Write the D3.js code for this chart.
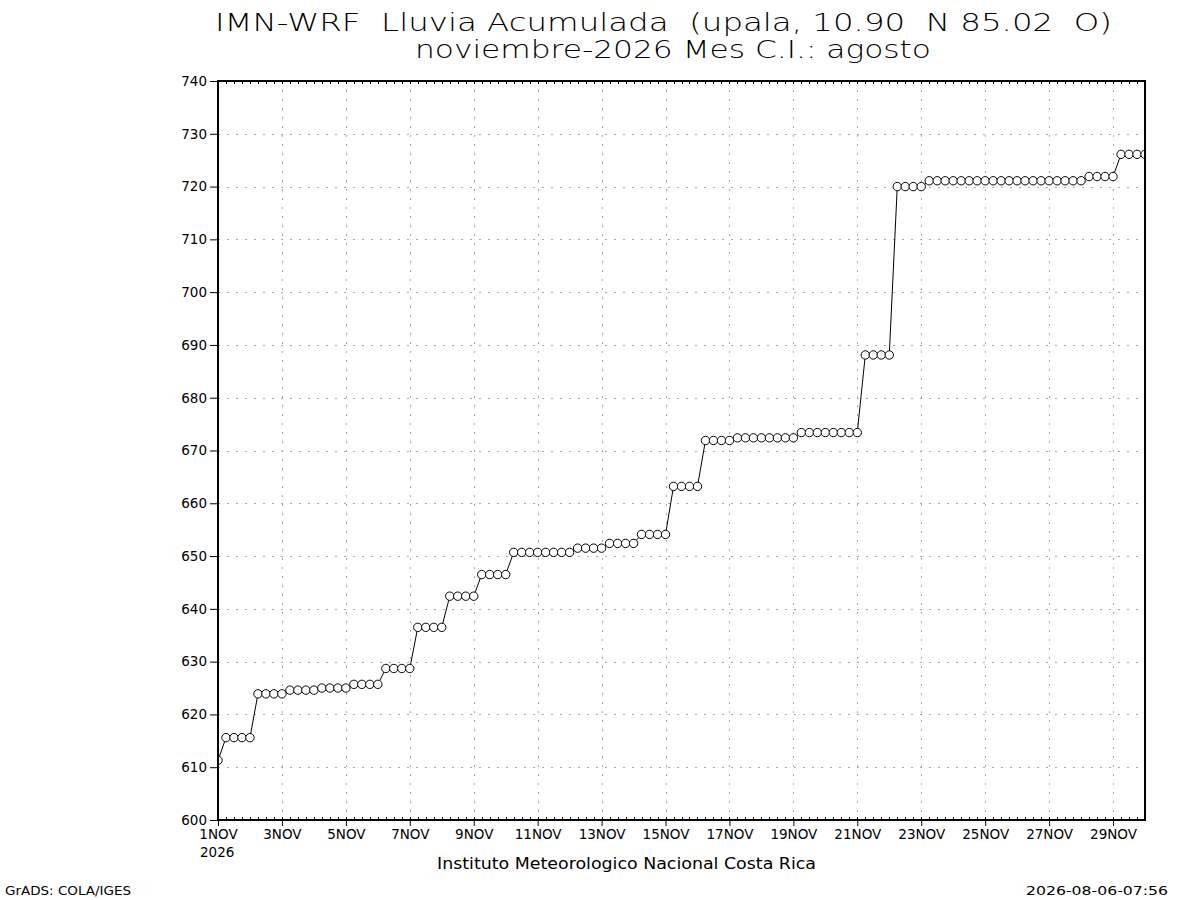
<!DOCTYPE html>
<html>
<head>
<meta charset="utf-8">
<script src="https://cdn.jsdelivr.net/npm/d3@7"></script>
<style>
  body { margin: 0; background: #fff; }
  svg text { font-family: "DejaVu Sans", sans-serif; fill: #000; white-space: pre; }
</style>
</head>
<body>
<div id="plot"></div>
<script>
// accumulated rain, 6-hourly, starting 1NOV 00Z
var startDate = new Date(Date.UTC(2026, 10, 1, 0));
var endDate = new Date(Date.UTC(2026, 10, 30, 0));
var stepHours = 6;

var rain = [
  611.3,
  615.6, 615.6, 615.6, 615.6,
  623.9, 623.9, 623.9, 623.9,
  624.6, 624.6, 624.6, 624.6,
  625.0, 625.0, 625.0, 625.0,
  625.7, 625.7, 625.7, 625.7,
  628.7, 628.7, 628.7, 628.7,
  636.5, 636.5, 636.5, 636.5,
  642.4, 642.4, 642.4, 642.4,
  646.5, 646.5, 646.5, 646.5,
  650.7, 650.7, 650.7, 650.7, 650.7, 650.7, 650.7, 650.7,
  651.5, 651.5, 651.5, 651.5,
  652.4, 652.4, 652.4, 652.4,
  654.1, 654.1, 654.1, 654.1,
  663.2, 663.2, 663.2, 663.2,
  671.9, 671.9, 671.9, 671.9,
  672.4, 672.4, 672.4, 672.4, 672.4, 672.4, 672.4, 672.4,
  673.4, 673.4, 673.4, 673.4, 673.4, 673.4, 673.4, 673.4,
  688.1, 688.1, 688.1, 688.1,
  720.0, 720.0, 720.0, 720.0,
  721.1, 721.1, 721.1, 721.1, 721.1, 721.1, 721.1, 721.1, 721.1, 721.1,
  721.1, 721.1, 721.1, 721.1, 721.1, 721.1, 721.1, 721.1, 721.1, 721.1,
  721.9, 721.9, 721.9, 721.9,
  726.1, 726.1, 726.1, 726.1
];

var yTicks = [600, 610, 620, 630, 640, 650, 660, 670, 680, 690, 700, 710, 720, 730, 740];
var xTickDays = [1, 3, 5, 7, 9, 11, 13, 15, 17, 19, 21, 23, 25, 27, 29];

var titleLines = [
  "IMN-WRF  Lluvia Acumulada  (upala, 10.90  N 85.02  O)",
  "noviembre-2026 Mes C.I.: agosto"
];
var xTitle = "Instituto Meteorologico Nacional Costa Rica";
var leftNote = "GrADS: COLA/IGES";
var rightNote = "2026-08-06-07:56";

var W = 1200, H = 900;
var pLeft = 218, pRight = 1145, pTop = 81, pBottom = 820;

var svg = d3.select("#plot").append("svg")
    .attr("width", W)
    .attr("height", H);

svg.append("clipPath").attr("id", "clip")
  .append("rect")
    .attr("x", pLeft).attr("y", pTop)
    .attr("width", pRight - pLeft).attr("height", pBottom - pTop);

var data = rain.map(function(v, i) {
  return {t: new Date(startDate.getTime() + i * stepHours * 3600e3), v: v};
});

// scales
var x = d3.scaleUtc().domain([startDate, endDate]).range([pLeft, pRight]);
var y = d3.scaleLinear().domain([600, 740]).range([pBottom, pTop]);

var xTickDates = xTickDays.map(function(d) { return new Date(Date.UTC(2026, 10, d)); });
var fmt = d3.utcFormat("%-d");

// grid
var grid = svg.append("g")
    .attr("stroke", "#aaa")
    .attr("stroke-width", 1)
    .attr("stroke-dasharray", "2,7")
    .attr("shape-rendering", "crispEdges");

grid.selectAll(".gy").data(yTicks.slice(1, -1)).enter().append("line")
    .attr("x1", pLeft).attr("x2", pRight)
    .attr("y1", function(d) { return Math.round(y(d)) + 0.5; })
    .attr("y2", function(d) { return Math.round(y(d)) + 0.5; });

grid.selectAll(".gx").data(xTickDates.slice(1)).enter().append("line")
    .attr("y1", pTop).attr("y2", pBottom)
    .attr("x1", function(d) { return Math.round(x(d)) + 0.5; })
    .attr("x2", function(d) { return Math.round(x(d)) + 0.5; });

// minor 6h ticks along top and bottom borders
var minor = d3.utcHour.every(6).range(startDate, endDate);
svg.append("g").selectAll("line").data(minor).enter().append("line")
    .attr("x1", function(d) { return Math.round(x(d)) + 0.5; })
    .attr("x2", function(d) { return Math.round(x(d)) + 0.5; })
    .attr("y1", pBottom).attr("y2", pBottom - 3)
    .attr("stroke", "#000").attr("shape-rendering", "crispEdges");
svg.append("g").selectAll("line").data(minor).enter().append("line")
    .attr("x1", function(d) { return Math.round(x(d)) + 0.5; })
    .attr("x2", function(d) { return Math.round(x(d)) + 0.5; })
    .attr("y1", pTop).attr("y2", pTop + 3)
    .attr("stroke", "#000").attr("shape-rendering", "crispEdges");

// axes
var yAxis = d3.axisLeft(y).tickValues(yTicks).tickSize(8).tickPadding(3).tickFormat(d3.format("d"));
var gy = svg.append("g").attr("transform", "translate(" + pLeft + ",0)").call(yAxis);
gy.select(".domain").remove();
gy.selectAll("text").attr("font-size", 13.5).attr("font-family", "DejaVu Sans");

var xAxis = d3.axisBottom(x).tickValues(xTickDates).tickSize(6).tickPadding(3)
    .tickFormat(function(d) { return fmt(d) + "NOV"; });
var gx = svg.append("g").attr("transform", "translate(0," + pBottom + ")").call(xAxis);
gx.select(".domain").remove();
gx.selectAll("text").attr("font-size", 13.5).attr("font-family", "DejaVu Sans");

svg.append("text")
    .attr("x", 200).attr("y", 857)
    .attr("font-size", 13.5)
    .text("2026");

// series
var line = d3.line()
    .x(function(d) { return x(d.t); })
    .y(function(d) { return y(d.v); });

var series = svg.append("g").attr("clip-path", "url(#clip)");

series.append("path").datum(data)
    .attr("d", line)
    .attr("fill", "none")
    .attr("stroke", "#000")
    .attr("stroke-width", 1);

series.selectAll("circle").data(data).enter().append("circle")
    .attr("cx", function(d) { return x(d.t); })
    .attr("cy", function(d) { return y(d.v); })
    .attr("r", 4.2)
    .attr("fill", "#fff")
    .attr("stroke", "#000")
    .attr("stroke-width", 1);

// frame
svg.append("rect")
    .attr("x", pLeft).attr("y", pTop)
    .attr("width", pRight - pLeft).attr("height", pBottom - pTop)
    .attr("fill", "none").attr("stroke", "#000").attr("stroke-width", 2);

// titles
svg.append("text").attr("x", 215).attr("y", 31)
    .attr("font-size", 25).attr("textLength", 897).attr("lengthAdjust", "spacingAndGlyphs")
    .attr("font-weight", 300)
    .text(titleLines[0]);
svg.append("text").attr("x", 415).attr("y", 58)
    .attr("font-size", 25).attr("textLength", 516).attr("lengthAdjust", "spacingAndGlyphs")
    .attr("font-weight", 300)
    .text(titleLines[1]);

svg.append("text").attr("x", 437).attr("y", 869)
    .attr("font-size", 16).attr("textLength", 379).attr("lengthAdjust", "spacingAndGlyphs")
    .text(xTitle);

svg.append("text").attr("x", 5).attr("y", 895)
    .attr("font-size", 13).attr("textLength", 126).attr("lengthAdjust", "spacingAndGlyphs")
    .text(leftNote);
svg.append("text").attr("x", 1026).attr("y", 895)
    .attr("font-size", 13).attr("textLength", 142).attr("lengthAdjust", "spacingAndGlyphs")
    .text(rightNote);
</script>
</body>
</html>
